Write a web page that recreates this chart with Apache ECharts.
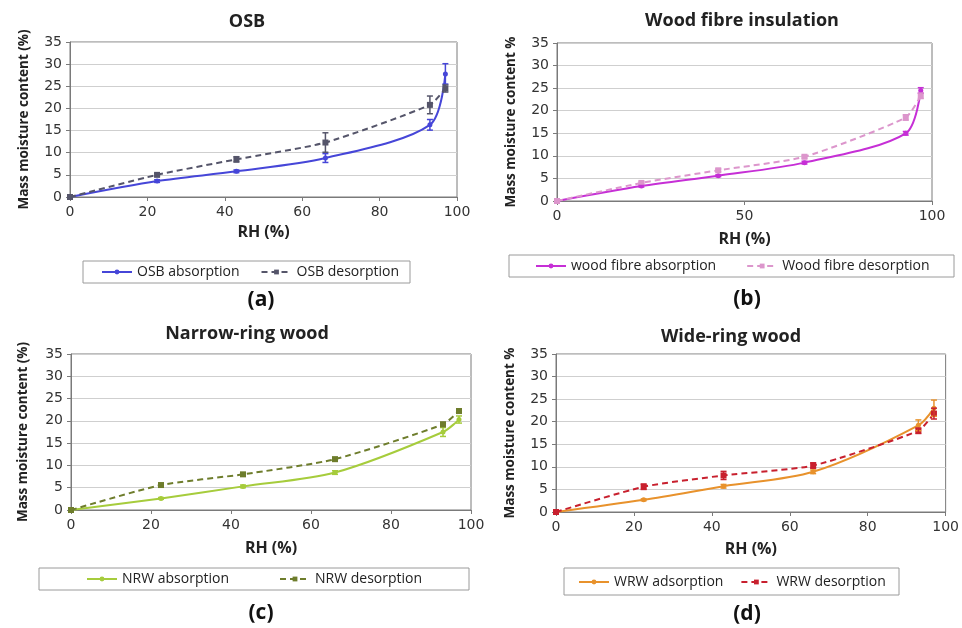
<!DOCTYPE html>
<html><head><meta charset="utf-8">
<script src="https://cdn.jsdelivr.net/npm/echarts@6/dist/echarts.min.js"></script>
<style>html,body{margin:0;padding:0;background:#fff}#c{width:962px;height:628px}</style>
</head><body><div id="c"></div>
<script>
// RH values (%) — same for every material
const rh = [0, 22.5, 43, 66, 93, 97];

// (a) OSB
const osbAbs = [0, 3.6, 5.8, 8.8, 16.3, 27.8];
const osbAbsErr = [0, 0.3, 0.3, 1.0, 1.2, 2.3];
const osbDes = [0, 5.0, 8.5, 12.3, 20.8, 24.5];
const osbDesErr = [0, 0.3, 0.6, 2.2, 2.0, 0.8];

// (b) Wood fibre insulation
const wfAbs = [0, 3.3, 5.6, 8.5, 15.0, 24.5];
const wfAbsErr = [0, 0.2, 0.2, 0.3, 0.4, 0.6];
const wfDes = [0, 4.0, 6.8, 9.8, 18.5, 23.3];
const wfDesErr = [0, 0.2, 0.3, 0.3, 0.6, 0.6];

// (c) Narrow-ring wood
const nrwAbs = [0, 2.6, 5.3, 8.4, 17.5, 20.3];
const nrwAbsErr = [0, 0.2, 0.3, 0.4, 1.0, 0.8];
const nrwDes = [0, 5.6, 8.0, 11.4, 19.2, 22.2];
const nrwDesErr = [0, 0.3, 0.3, 0.4, 0.5, 0.5];

// (d) Wide-ring wood
const wrwAbs = [0, 2.7, 5.7, 8.9, 19.2, 23.0];
const wrwAbsErr = [0, 0.2, 0.4, 0.4, 1.2, 1.8];
const wrwDes = [0, 5.6, 8.1, 10.3, 18.0, 21.8];
const wrwDesErr = [0, 0.6, 0.9, 0.6, 0.6, 1.2];

const titles = ['OSB', 'Wood fibre insulation', 'Narrow-ring wood', 'Wide-ring wood'];
const panelLabels = ['(a)', '(b)', '(c)', '(d)'];
const yNames = ['Mass moisture content (%)', 'Mass moisture content %', 'Mass moisture content (%)', 'Mass moisture content %'];
const xIntervals = [20, 50, 20, 20];
const seriesNames = [
  ['OSB absorption', 'OSB desorption'],
  ['wood fibre absorption', 'Wood fibre desorption'],
  ['NRW absorption', 'NRW desorption'],
  ['WRW adsorption', 'WRW desorption']
];
const colors = [
  ['#4646d8', '#55556a'],
  ['#c62fd6', '#dc96cc'],
  ['#a6cc3c', '#6e7d2c'],
  ['#e8922c', '#c8202e']
];
const absData = [osbAbs, wfAbs, nrwAbs, wrwAbs];
const absErr = [osbAbsErr, wfAbsErr, nrwAbsErr, wrwAbsErr];
const desData = [osbDes, wfDes, nrwDes, wrwDes];
const desErr = [osbDesErr, wfDesErr, nrwDesErr, wrwDesErr];

// layout
const grids = [
  {left: 70, top: 42, width: 387, height: 155},
  {left: 557, top: 43, width: 375, height: 158},
  {left: 71, top: 354, width: 400, height: 156},
  {left: 556, top: 354, width: 393, height: 158}
];
const yNameGap = [39, 39, 41, 39];
const xNameGap = [27, 30, 30, 29];
const titlePos = [[247, 22], [742, 21], [247, 334], [731, 337]];
const labelPos = [[261, 300], [747, 299], [261, 613], [747, 614]];
const legendBox = [[83, 261, 327, 22], [509, 255, 445, 22], [39, 568, 430, 22], [564, 568, 335, 27]];
const legendItem = [[101, 272, 21], [535, 266, 30], [86, 579, 50], [578, 582, 17]];

const FONT = '"Open Sans", "DejaVu Sans", sans-serif';
const TICKFONT = '"DejaVu Sans", sans-serif';

function pairs(ys) { return rh.map((x, i) => [x, ys[i]]); }
function errPairs(ys, es) { return rh.map((x, i) => [x, ys[i] - es[i], ys[i] + es[i]]); }

function errSeries(k, ys, es, color) {
  return {
    type: 'custom', xAxisIndex: k, yAxisIndex: k, silent: true, z: 4,
    data: errPairs(ys, es),
    encode: {x: 0, y: [1, 2]},
    renderItem: function (params, api) {
      const x = api.value(0), lo = api.value(1), hi = api.value(2);
      if (hi - lo < 0.01) return null;
      const p1 = api.coord([x, lo]), p2 = api.coord([x, hi]);
      const w = 3;
      const st = {stroke: color, lineWidth: 1.5};
      return {type: 'group', children: [
        {type: 'line', shape: {x1: p1[0], y1: p1[1], x2: p2[0], y2: p2[1]}, style: st},
        {type: 'line', shape: {x1: p1[0] - w, y1: p1[1], x2: p1[0] + w, y2: p1[1]}, style: st},
        {type: 'line', shape: {x1: p2[0] - w, y1: p2[1], x2: p2[0] + w, y2: p2[1]}, style: st}
      ]};
    }
  };
}

const grid = [], xAxis = [], yAxis = [], series = [], legend = [], graphic = [];
for (let k = 0; k < 4; k++) {
  grid.push(Object.assign({show: true, borderColor: '#7a7a7a', borderWidth: 1, backgroundColor: 'transparent'}, grids[k]));
  xAxis.push({
    type: 'value', gridIndex: k, min: 0, max: 100, interval: xIntervals[k],
    name: 'RH (%)', nameLocation: 'middle', nameGap: xNameGap[k],
    nameTextStyle: {fontFamily: FONT, fontWeight: 'bold', fontSize: 16, color: '#222'},
    axisLine: {show: true, lineStyle: {color: '#7a7a7a'}},
    axisTick: {show: true, length: 4, lineStyle: {color: '#7a7a7a'}},
    axisLabel: {fontFamily: TICKFONT, fontSize: 14, color: '#333', margin: 8},
    splitLine: {show: false}
  });
  yAxis.push({
    type: 'value', gridIndex: k, min: 0, max: 35, interval: 5,
    name: yNames[k], nameLocation: 'middle', nameGap: yNameGap[k],
    nameTextStyle: {fontFamily: FONT, fontWeight: 'bold', fontSize: 13.5, color: '#222'},
    axisLine: {show: true, lineStyle: {color: '#7a7a7a'}},
    axisTick: {show: true, length: 4, lineStyle: {color: '#7a7a7a'}},
    axisLabel: {fontFamily: TICKFONT, fontSize: 14, color: '#333', margin: 8},
    splitLine: {show: true, lineStyle: {color: '#cfcfcf', width: 1}}
  });
  const [ca, cd] = colors[k];
  series.push({
    name: seriesNames[k][0], type: 'line', xAxisIndex: k, yAxisIndex: k,
    data: pairs(absData[k]), smooth: 0.3,
    symbol: 'circle', symbolSize: 5, z: 3,
    lineStyle: {color: ca, width: 2}, itemStyle: {color: ca}
  });
  series.push({
    name: seriesNames[k][1], type: 'line', xAxisIndex: k, yAxisIndex: k,
    data: pairs(desData[k]), smooth: 0.2,
    symbol: 'rect', symbolSize: 6, z: 3,
    lineStyle: {color: cd, width: 2, type: [6, 4]}, itemStyle: {color: cd}
  });
  series.push(errSeries(k, absData[k], absErr[k], ca));
  series.push(errSeries(k, desData[k], desErr[k], cd));
  legend.push({
    data: seriesNames[k], left: legendItem[k][0], top: legendItem[k][1] - 8,
    itemGap: legendItem[k][2], itemWidth: 30, itemHeight: 6, padding: 0,
    textStyle: {fontFamily: FONT, fontSize: 14, color: '#222', lineHeight: 16}, selectedMode: false
  });
  const b = legendBox[k];
  graphic.push({type: 'rect', shape: {x: b[0], y: b[1], width: b[2], height: b[3]},
    style: {fill: 'none', stroke: '#9a9a9a', lineWidth: 1}, z: -1});
  graphic.push({type: 'text', x: titlePos[k][0], y: titlePos[k][1],
    style: {text: titles[k], fontFamily: FONT, fontWeight: 'bold', fontSize: 18, fill: '#222', textAlign: 'center', textVerticalAlign: 'middle'}});
  graphic.push({type: 'text', x: labelPos[k][0], y: labelPos[k][1],
    style: {text: panelLabels[k], fontFamily: FONT, fontWeight: 'bold', fontSize: 21, fill: '#111', textAlign: 'center', textVerticalAlign: 'middle'}});
}

const chart = echarts.init(document.getElementById('c'), null, {renderer: 'canvas'});
chart.setOption({animation: false, backgroundColor: '#fff', grid, xAxis, yAxis, series, legend, graphic});
</script></body></html>
